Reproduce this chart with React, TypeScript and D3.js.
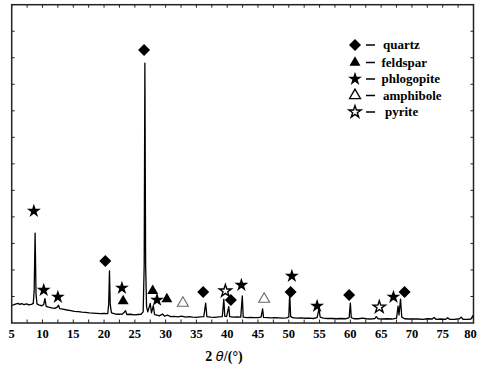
import React from 'react';
import * as d3 from 'd3';

// XRD pattern: [2θ (°), intensity (a.u.)]
const pattern: [number, number][] = [
  [5.0, 66], [5.5, 70], [6.0, 74], [6.3, 70], [6.6, 73], [7.0, 69], [7.4, 72], [7.8, 68],
  [8.2, 70], [8.5, 74], [8.65, 120], [8.8, 339], [8.95, 110], [9.1, 72], [9.5, 67], [9.9, 65],
  [10.2, 70], [10.4, 92], [10.6, 63], [11.0, 60], [11.5, 57], [12.0, 55], [12.4, 60], [12.6, 67],
  [12.8, 54], [13.3, 52], [14.0, 49], [14.6, 47], [15.2, 44], [15.8, 43], [16.4, 41], [17.0, 40],
  [17.6, 38], [18.2, 37], [18.8, 36], [19.4, 35], [20.0, 36], [20.6, 35], [20.75, 70], [20.88, 196],
  [21.0, 70], [21.2, 38], [21.8, 34], [22.4, 33], [23.0, 34], [23.5, 46], [23.7, 32], [24.3, 33],
  [24.9, 31], [25.5, 32], [26.0, 33], [26.35, 42], [26.52, 220], [26.63, 980], [26.75, 220], [26.9, 62],
  [27.1, 42], [27.5, 74], [27.7, 38], [28.0, 65], [28.2, 32], [28.6, 30], [29.0, 27], [29.5, 34],
  [29.8, 26], [30.3, 30], [30.8, 24], [31.4, 25], [32.0, 23], [32.6, 26], [33.2, 22], [33.8, 24],
  [34.4, 22], [35.0, 21], [35.6, 23], [36.2, 24], [36.5, 75], [36.7, 24], [37.3, 22], [38.0, 21],
  [38.6, 23], [39.2, 24], [39.45, 90], [39.6, 26], [39.9, 24], [40.25, 62], [40.4, 24], [41.0, 22],
  [41.6, 23], [42.2, 22], [42.45, 102], [42.6, 22], [43.2, 20], [43.8, 21], [44.4, 20], [45.0, 20],
  [45.5, 22], [45.75, 53], [45.9, 21], [46.5, 20], [47.2, 19], [47.8, 20], [48.4, 19], [49.0, 18],
  [49.6, 19], [50.0, 22], [50.15, 112], [50.3, 25], [50.6, 20], [51.2, 18], [52.0, 19], [52.6, 18],
  [53.3, 18], [54.0, 17], [54.6, 20], [54.9, 53], [55.1, 22], [55.6, 18], [56.2, 17], [57.0, 17],
  [57.8, 16], [58.4, 17], [59.2, 16], [59.8, 20], [60.0, 75], [60.15, 20], [60.6, 16], [61.3, 16],
  [62.0, 18], [62.6, 16], [63.3, 15], [64.0, 17], [64.2, 24], [64.5, 16], [65.2, 15], [66.0, 16],
  [66.8, 15], [67.5, 18], [67.75, 64], [67.9, 30], [68.15, 90], [68.35, 22], [68.8, 16], [69.5, 15],
  [70.2, 15], [71.0, 15], [71.8, 14], [72.5, 16], [73.3, 15], [73.6, 21], [73.9, 14], [74.7, 15],
  [75.5, 14], [75.8, 20], [76.1, 14], [76.9, 14], [77.7, 16], [78.0, 22], [78.3, 14], [79.0, 14],
  [79.6, 15], [79.9, 28], [80.0, 16],
];

// Phase markers above the peaks: [2θ, intensity]
const quartzMarks: [number, number][] = [[20.2, 234], [26.5, 1029], [36.1, 117], [40.6, 87], [50.3, 117], [59.8, 106], [68.8, 117]];
const feldsparMarks: [number, number][] = [[23.1, 83], [27.9, 121], [30.2, 90]];
const phlogopiteMarks: [number, number][] = [[8.6, 422], [10.2, 124], [12.5, 98], [22.9, 132], [28.6, 87], [42.3, 143], [50.5, 177], [54.6, 64], [67.0, 98]];
const amphiboleMarks: [number, number][] = [[32.8, 75], [46.0, 90]];
const pyriteMarks: [number, number][] = [[39.7, 121], [64.7, 60]];

const xTickLabels = [5, 10, 15, 20, 25, 30, 35, 40, 45, 50, 55, 60, 65, 70, 75, 80];
const legendNames = ['quartz', 'feldspar', 'phlogopite', 'amphibole', 'pyrite'];

function App() {
  const svgRef = React.useRef(null);

  const width = 478;
  const height = 367;
  const plot = { left: 11.7, right: 473.5, top: 4.7, bottom: 323 };
  const serif = "'Liberation Serif', 'Times New Roman', 'DejaVu Serif', serif";

  React.useEffect(() => {
    const x = d3.scaleLinear().domain([5, 80]).range([plot.left, plot.right]);
    const y = d3.scaleLinear().domain([0, 1200]).range([plot.bottom, plot.top]);

    const svg = d3.select(svgRef.current);
    svg.selectAll('*').remove();

    // frame ticks, all pointing inward
    const xTicks = d3.range(5, 80.01, 2.5);
    const yTicks = d3.range(100, 1200, 100);
    const tickG = svg.append('g').attr('stroke', '#222').attr('stroke-width', 1);
    tickG.selectAll('.xb').data(xTicks).enter().append('line')
      .attr('x1', (d) => x(d)).attr('x2', (d) => x(d))
      .attr('y1', plot.bottom).attr('y2', plot.bottom - 3.5);
    tickG.selectAll('.xt').data(xTicks).enter().append('line')
      .attr('x1', (d) => x(d)).attr('x2', (d) => x(d))
      .attr('y1', plot.top).attr('y2', plot.top + 3);
    tickG.selectAll('.yl').data(yTicks).enter().append('line')
      .attr('x1', plot.left).attr('x2', plot.left + 3)
      .attr('y1', (d) => y(d)).attr('y2', (d) => y(d));
    tickG.selectAll('.yr').data(yTicks).enter().append('line')
      .attr('x1', plot.right).attr('x2', plot.right - 3)
      .attr('y1', (d) => y(d)).attr('y2', (d) => y(d));

    // the pattern itself
    const line = d3.line<[number, number]>()
      .x((d) => x(d[0]))
      .y((d) => y(d[1]));
    svg.append('path')
      .datum(pattern)
      .attr('d', line)
      .attr('fill', 'none')
      .attr('stroke', '#000')
      .attr('stroke-width', 1.3)
      .attr('stroke-linejoin', 'round');

    // frame
    svg.append('rect')
      .attr('x', plot.left).attr('y', plot.top)
      .attr('width', plot.right - plot.left).attr('height', plot.bottom - plot.top)
      .attr('fill', 'none').attr('stroke', '#222').attr('stroke-width', 1.5);

    // x tick labels (last one nudged in so it is not cut by the window edge)
    svg.append('g').selectAll('text').data(xTickLabels).enter().append('text')
      .attr('x', (d) => Math.min(x(d), width - 7.5)).attr('y', 338)
      .attr('text-anchor', 'middle')
      .style('font-family', serif).style('font-weight', 'bold').style('font-size', '12.5px')
      .text((d) => d);

    // axis title
    const title = svg.append('text')
      .attr('x', 224).attr('y', 361)
      .attr('text-anchor', 'middle')
      .style('font-family', serif).style('font-weight', 'bold').style('font-size', '14px');
    title.append('tspan').text('2 ');
    title.append('tspan')
      .style('font-style', 'italic').style('font-family', "'DejaVu Sans', sans-serif")
      .style('font-weight', 'normal').style('font-size', '13px')
      .text('θ');
    title.append('tspan').text('/(°)');

    // marker shapes
    const diamond = d3.symbol(d3.symbolSquare, 72)();
    const triangle = d3.symbol(d3.symbolTriangle, 52)();
    const star = d3.symbol(d3.symbolStar, 60)();
    const openStar = d3.symbol(d3.symbolStar, 46)();

    const drawMarks = (marks, path, fill, stroke, sw, rot) => {
      svg.append('g').selectAll('path').data(marks).enter().append('path')
        .attr('d', path)
        .attr('transform', (d) => `translate(${x(d[0])},${y(d[1])}) rotate(${rot})`)
        .attr('fill', fill).attr('stroke', stroke).attr('stroke-width', sw)
        .attr('stroke-linejoin', 'miter');
    };
    drawMarks(quartzMarks, diamond, '#000', 'none', 0, 45);
    drawMarks(feldsparMarks, triangle, '#000', 'none', 0, 0);
    drawMarks(phlogopiteMarks, star, '#000', 'none', 0, 0);
    drawMarks(amphiboleMarks, triangle, '#fff', '#666', 1.1, 0);
    drawMarks(pyriteMarks, openStar, '#fff', '#000', 1.4, 0);

    // legend
    const legendShapes = [
      { path: diamond, fill: '#000', stroke: 'none', sw: 0, rot: 45 },
      { path: triangle, fill: '#000', stroke: 'none', sw: 0, rot: 0 },
      { path: star, fill: '#000', stroke: 'none', sw: 0, rot: 0 },
      { path: triangle, fill: '#fff', stroke: '#000', sw: 1.3, rot: 0 },
      { path: openStar, fill: '#fff', stroke: '#000', sw: 1.4, rot: 0 },
    ];
    const rowY = [45, 62.5, 79, 95.5, 112];
    const textX = [383, 381.5, 381.5, 383, 385];
    const legend = svg.append('g');
    legendNames.forEach((name, i) => {
      const s = legendShapes[i];
      legend.append('path')
        .attr('d', s.path)
        .attr('transform', `translate(355,${rowY[i]}) rotate(${s.rot})`)
        .attr('fill', s.fill).attr('stroke', s.stroke).attr('stroke-width', s.sw);
      legend.append('line')
        .attr('x1', 366).attr('x2', 375)
        .attr('y1', rowY[i]).attr('y2', rowY[i])
        .attr('stroke', '#000').attr('stroke-width', 1.5);
      legend.append('text')
        .attr('x', textX[i]).attr('y', rowY[i] + 4)
        .style('font-family', serif).style('font-weight', 'bold').style('font-size', '13px')
        .text(name);
    });
  }, []);

  return (
    <svg
      ref={svgRef}
      width={width}
      height={height}
      style={{ position: 'absolute', left: 0, top: 0, background: '#fff' }}
    />
  );
}

export default App;
